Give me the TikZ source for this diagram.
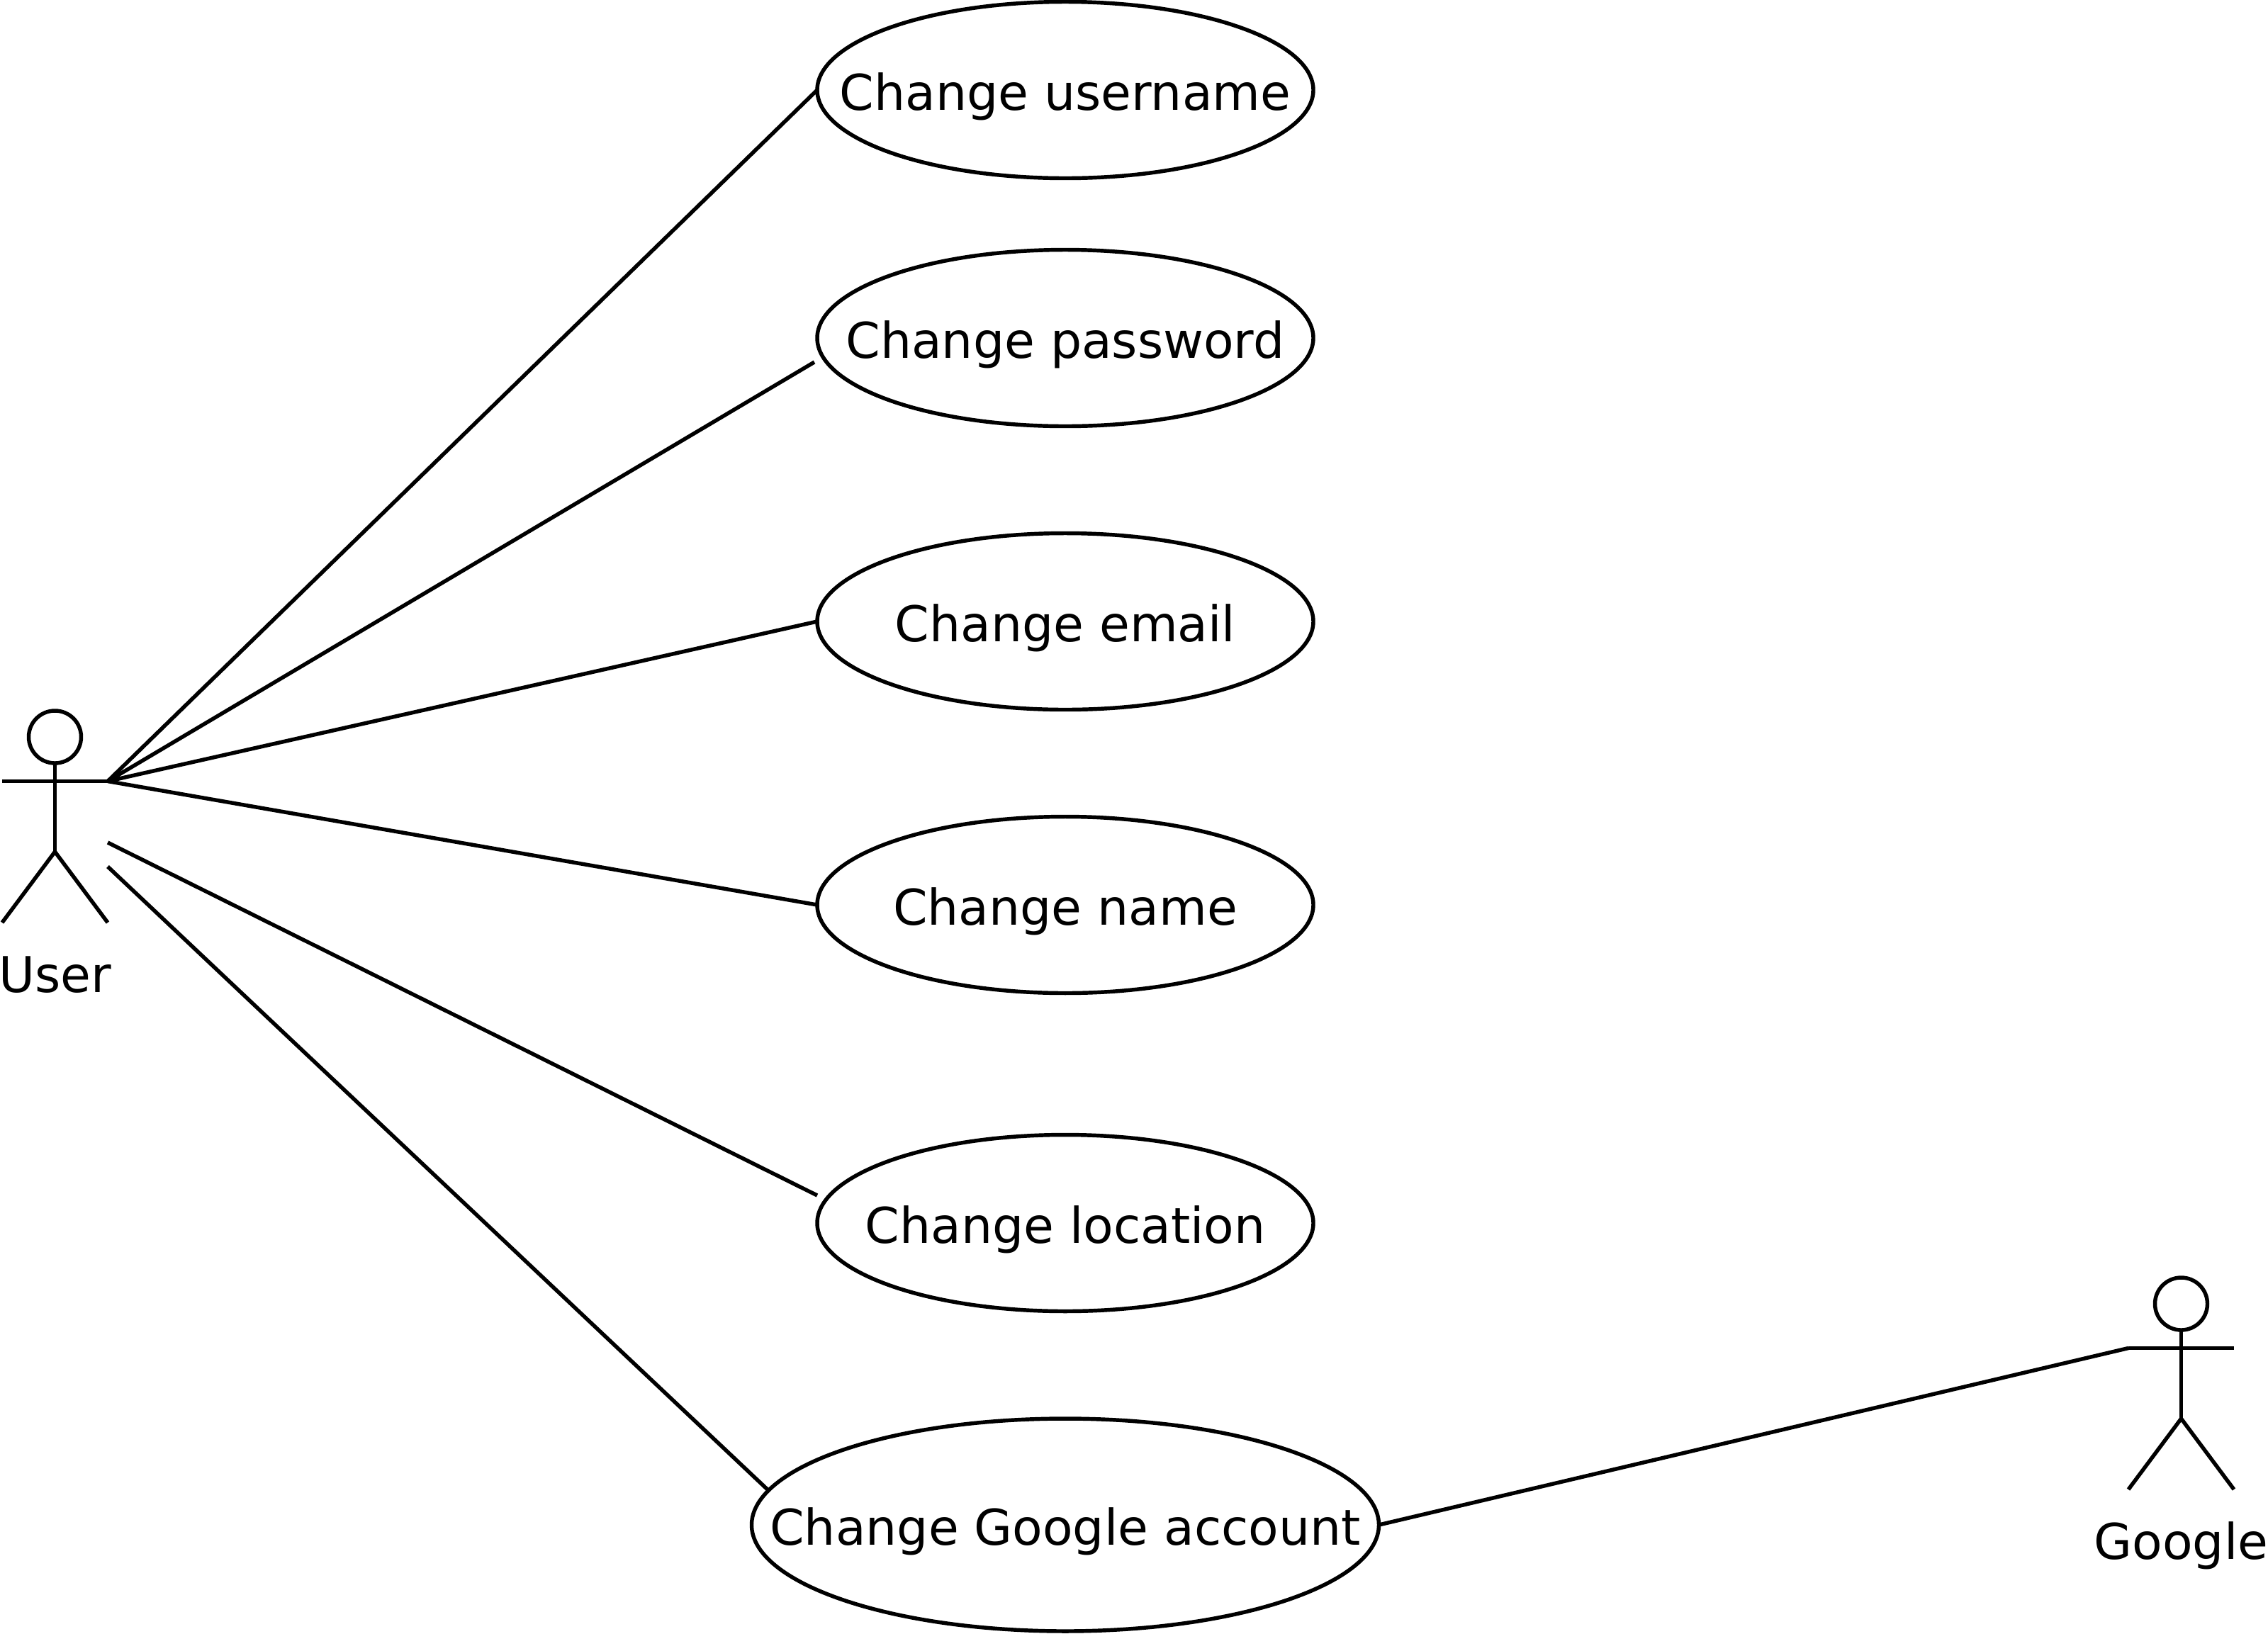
\documentclass[tikz,border=0pt]{standalone}
\usepackage{fontspec}
\setmainfont{DejaVu Sans}
\usetikzlibrary{shapes.geometric,positioning}

\begin{document}
\begin{tikzpicture}[
        line width=1.55pt,
        usecase/.style={ellipse, draw, outer sep=0pt, inner ysep=0pt, inner xsep=-2cm,
            minimum width=#1,
            minimum height=2.49cm,
            text height=0.72cm, text depth=0.16cm,
            font=\fontsize{19.8pt}{24pt}\selectfont},
        usecase/.default=7cm,
        head/.style={circle, draw, inner sep=0pt, outer sep=0pt, minimum size=0.74cm},
        actorname/.style={inner sep=0pt, outer sep=0pt,
            text height=0.56cm, text depth=0.16cm,
            font=\fontsize{19.8pt}{24pt}\selectfont},
        link/.style={draw}
    ]
        \useasboundingbox (0,0) rectangle (32,-23.05);

        \node[usecase] (username) at (15.03,-1.27) {Change username};
        \node[usecase, below=1.01cm of username] (password) {Change password};
        \node[usecase, below=1.51cm of password] (email) {Change email};
        \node[usecase, below=1.51cm of email] (name) {Change name};
        \node[usecase, below=2cm of name] (location) {Change location};
        \node[usecase=8.85cm, minimum height=3cm, below=1.515cm of location] (google) {Change Google account};

        \node[head] (userhead) at (0.775,-10.4) {};
        \coordinate[below=0.255cm of userhead] (usershoulder);
        \coordinate[below=1.25cm of userhead] (userhip);
        \coordinate[left=0.745cm of usershoulder] (userarml);
        \coordinate[right=0.745cm of usershoulder] (userarmr);
        \coordinate[below left=1cm and 0.745cm of userhip] (userfootl);
        \coordinate[below right=1cm and 0.745cm of userhip] (userfootr);
        \node[actorname, below=1.42cm of userhip] (userlabel) {User};
        \draw (userhead) -- (userhip);
        \draw (userarml) -- (userarmr);
        \draw (userfootl) -- (userhip) -- (userfootr);

        \node[head] (googlehead) at (30.775,-18.4) {};
        \coordinate[below=0.255cm of googlehead] (googleshoulder);
        \coordinate[below=1.25cm of googlehead] (googlehip);
        \coordinate[left=0.745cm of googleshoulder] (googlearml);
        \coordinate[right=0.745cm of googleshoulder] (googlearmr);
        \coordinate[below left=1cm and 0.745cm of googlehip] (googlefootl);
        \coordinate[below right=1cm and 0.745cm of googlehip] (googlefootr);
        \node[actorname, below=1.42cm of googlehip] (googlelabel) {Google};
        \draw (googlehead) -- (googlehip);
        \draw (googlearml) -- (googlearmr);
        \draw (googlefootl) -- (googlehip) -- (googlefootr);

        \coordinate (passwordend) at (11.49,-5.11);
        \coordinate (locationstart) at (1.52,-11.89);
        \coordinate (locationend) at (11.53,-16.87);
        \coordinate (googlestart) at (1.52,-12.23);
        \coordinate (googleend) at (10.86,-21.05);

        \draw[link] (userarmr) -- (username.west);
        \draw[link] (userarmr) -- (passwordend);
        \draw[link] (userarmr) -- (email.west);
        \draw[link] (userarmr) -- (name.west);
        \draw[link] (locationstart) -- (locationend);
        \draw[link] (googlestart) -- (googleend);
        \draw[link] (google.east) -- (googlearml);
    \end{tikzpicture}
\end{document}
